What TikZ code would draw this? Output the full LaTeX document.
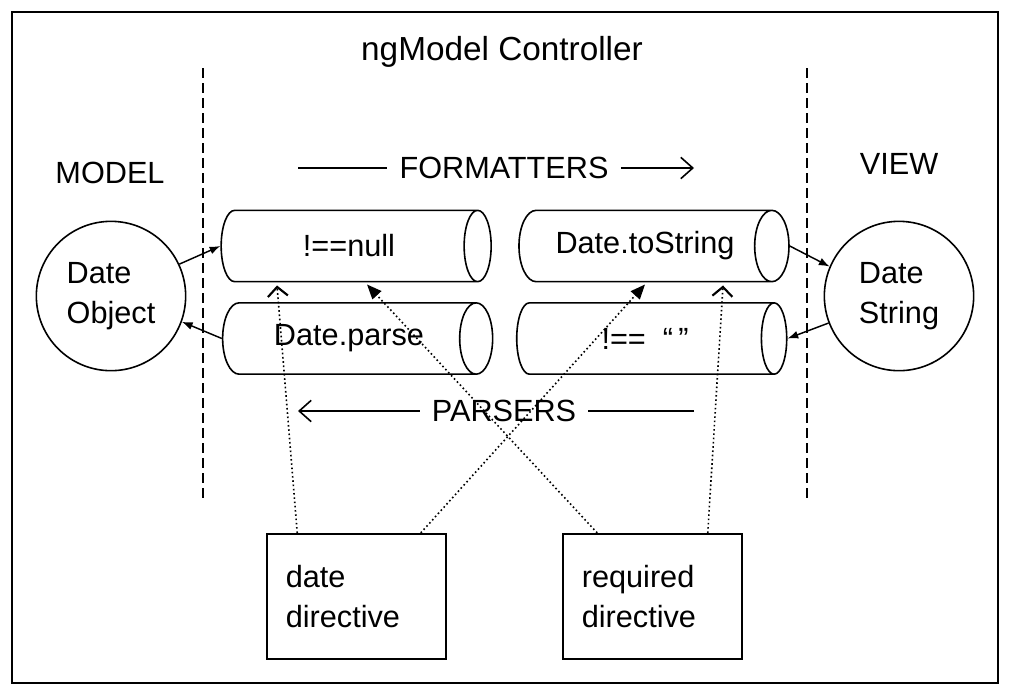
\documentclass[tikz,border=0pt]{standalone}
\usepackage{fontspec}
\setmainfont{Liberation Sans}
\usetikzlibrary{shapes.geometric,arrows.meta,calc}

\tikzset{
  txt/.style = {font=\fontsize{23}{30}\selectfont},
  pipe/.style = {cylinder, draw, line width=1.2pt, aspect=1.2,
    minimum width=53.5pt, minimum height=202.5pt, inner sep=0pt, txt},
  value/.style = {circle, draw, line width=1.2pt, minimum size=112pt,
    align=left, txt},
  directive/.style = {rectangle, draw, line width=1.4pt, minimum width=134pt,
    minimum height=94pt, align=left, text width=106pt, txt},
  flow/.style = {draw, line width=1.1pt, -{Latex[length=8pt,width=6pt]}},
  hook/.style = {draw, dotted, line width=1.2pt},
  divider/.style = {draw, dashed, line width=1.5pt, dash pattern=on 7.5pt off 3.75pt},
  stage/.style = {txt, inner xsep=9pt}
}

\begin{document}
\begin{tikzpicture}[x=0.75pt, y=-0.75pt]
\useasboundingbox (0,0) rectangle (1016,694);
\draw[line width=2.2pt] (12,12) rectangle (998,683);

% headings
\node[font=\fontsize{25}{30}\selectfont] (title) at (502,52) {ngModel Controller};
\node[txt] (model) at (110,173) {MODEL};
\node[txt] (view) at (899,164) {VIEW};

% controller borders
\path[divider] (203,68) -- (203,503);
\path[divider] (807,68) -- (807,503);

% values on both sides
\node[value] (obj) at (111,296) {Date\\Object};
\node[value] (str) at (899,296) {Date\\String};

% pipelines
\begin{scope}[every node/.style = {pipe}]
\node (nonnull) at (349,246) {!==null};
\node (parse) at (349,338.5) {Date.parse};
\node (tostr) at (645,246) {Date.toString};
\node (nonempty) at (645,338.5) {!==~~“\,”};
\end{scope}

% direction of the chains
\node[stage] (fmt) at (504,168) {FORMATTERS};
\node[stage] (prs) at (504,411) {PARSERS};
\coordinate (fmtstart) at (298,168);
\coordinate (fmtend) at (694,168);
\coordinate (prsstart) at (694,411);
\coordinate (prsend) at (298,411);
\begin{scope}[line width=1.2pt]
\draw (fmtstart) -- (fmt);
\draw[-{Straight Barb[length=9pt,width=16pt]}] (fmt) -- (fmtend);
\draw (prsstart) -- (prs);
\draw[-{Straight Barb[length=9pt,width=16pt]}] (prs) -- (prsend);
\end{scope}

% model <-> view
\path[flow] (obj.25) -- (nonnull.west);
\path[flow] (parse.west) -- (obj.-20);
\path[flow] (tostr.east) -- (str.157);
\path[flow] (str.201) -- (nonempty.east);

% directives
\node[directive] (datedir) at (356.5,596.5) {date\\directive};
\node[directive] (reqdir) at (652.5,596.5) {required\\directive};

\begin{scope}[every path/.style = {hook}]
\draw[-{Straight Barb[length=7pt,width=15pt,line width=1.6pt]}]
  ($(datedir.north west)+(31,0)$) -- ($(nonnull.south)+(-72,3)$);
\draw[-{Triangle[length=11pt,width=9pt]}]
  ($(datedir.north east)+(-26,0)$) -- ($(tostr.south)+(0,2)$);
\draw[-{Triangle[length=11pt,width=9pt]}]
  ($(reqdir.north west)+(35,0)$) -- ($(nonnull.south)+(18,2)$);
\draw[-{Straight Barb[length=7pt,width=15pt,line width=1.6pt]}]
  ($(reqdir.north east)+(-35,0)$) -- ($(tostr.south)+(78,3)$);
\end{scope}
\end{tikzpicture}
\end{document}
